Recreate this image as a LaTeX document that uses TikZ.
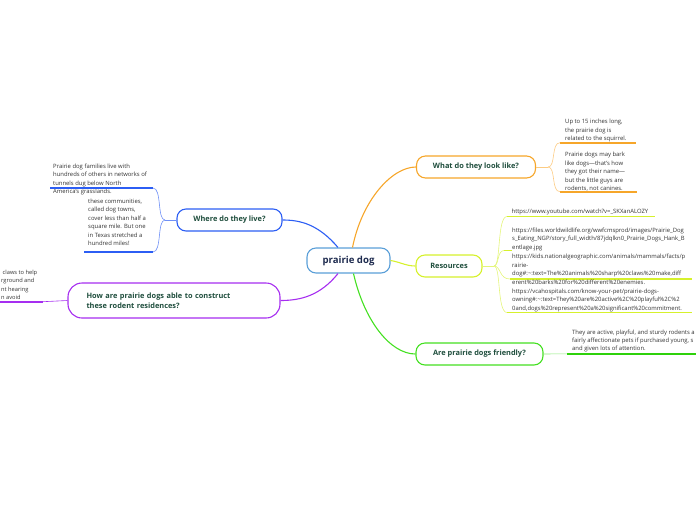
\documentclass[tikz,border=0pt]{standalone}
\usepackage{fontspec}
\setmainfont{Open Sans}
\definecolor{cblue}{HTML}{5A9FD8}
\definecolor{cnavy}{HTML}{1E2B4F}
\definecolor{tgreen}{HTML}{1F4E3D}
\definecolor{leafgray}{HTML}{333333}
\definecolor{orangeM}{HTML}{F6A62A}
\definecolor{orangeL}{HTML}{FCCB82}
\definecolor{blueM}{HTML}{2C5EF4}
\definecolor{blueL}{HTML}{6F90F6}
\definecolor{ygM}{HTML}{D6F12C}
\definecolor{ygL}{HTML}{E4F57A}
\definecolor{greenM}{HTML}{44E021}
\definecolor{greenU}{HTML}{2ED10B}
\definecolor{greenL}{HTML}{8BEB77}
\definecolor{purpM}{HTML}{A62EF0}
\begin{document}
\begin{tikzpicture}[x=1pt,y=-1pt,
  topic/.style={draw, rounded corners=9pt, line width=1.1pt, fill=white,
    font=\fontsize{7.4}{9.8}\selectfont\bfseries, text=tgreen, inner sep=0pt, align=center},
  leaf/.style={anchor=base west, inner sep=0pt, font=\fontsize{5.9}{8.5}\selectfont,
    text=leafgray, align=left},
  mainc/.style={line width=1.1pt},
  thinc/.style={line width=0.6pt},
  uline/.style={line width=1.7pt}]
\useasboundingbox (0,0) rectangle (696,520);
\clip (0,0) rectangle (696,520);

% central node
\node[draw=cblue, line width=1.1pt, rounded corners=9pt, fill=white, minimum width=83pt,
  minimum height=25pt, inner sep=0pt, text=cnavy, font=\fontsize{9.6}{11}\selectfont\bfseries]
  (c) at (348.5,260.5) {prairie dog};

% topics
\node[topic, draw=orangeM, minimum width=119pt, minimum height=22pt] (what) at (476,167) {What do they look like?};
\node[topic, draw=ygM, minimum width=66pt, minimum height=22pt] (res) at (449,266) {Resources};
\node[topic, draw=greenM, minimum width=127pt, minimum height=22pt] (fr) at (479.5,354) {Are prairie dogs friendly?};
\node[topic, draw=blueM, minimum width=105pt, minimum height=22pt] (where) at (229.5,220) {Where do they live?};
\node[topic, draw=purpM, rounded corners=14pt, text width=175pt, inner xsep=18.5pt, align=left,
  minimum height=35pt] (how) at (174,300.5) {How are prairie dogs able to construct\\these rodent residences?};

% main connectors
\draw[mainc, orangeM] ([xshift=4pt]c.north) .. controls (362,200) and (392,167) .. (what.west);
\draw[mainc, blueM] ([xshift=-10.5pt]c.north) .. controls (318,224) and (300,220) .. (where.east);
\draw[mainc, ygM] (c.east) .. controls (400,262) and (406,266) .. (res.west);
\draw[mainc, greenM] ([xshift=5pt]c.south) .. controls (364,320) and (390,354) .. (fr.west);
\draw[mainc, purpM] ([xshift=-10.5pt]c.south) .. controls (320,296) and (300,300.5) .. (how.east);

% ---- orange leaves (base = last line)
\node[leaf] (o1t) at (565,140.8) {Up to 15 inches long,\\the prairie dog is\\related to the squirrel.};
\node[leaf] (o2t) at (565,190.5) {Prairie dogs may bark\\like dogs—that's how\\they got their name—\\but the little guys are\\rodents, not canines.};
\coordinate (oj) at (548,167);
\coordinate (o1) at (560,142.7);
\coordinate (o1e) at (636,142.7);
\coordinate (o2) at (560,191.7);
\coordinate (o2e) at (637,191.7);
\draw[thinc, orangeL] (what.east) -- (oj);
\draw[thinc, orangeL] (oj) .. controls (556,167) and (551,142.7) .. (o1);
\draw[thinc, orangeL] (oj) .. controls (556,167) and (551,191.7) .. (o2);
\draw[uline, orangeM] (o1) -- (o1e);
\draw[uline, orangeM] (o2) -- (o2e);

% ---- blue leaves
\node[leaf] (b1t) at (53,193.7) {Prairie dog families live with\\hundreds of others in networks of\\tunnels dug below North\\America's grasslands.};
\node[leaf] (b2t) at (88,245.5) {these communities,\\called dog towns,\\cover less than half a\\square mile. But one\\in Texas stretched a\\hundred miles!};
\coordinate (bj) at (165,220);
\coordinate (b1) at (153,188);
\coordinate (b1e) at (50,188);
\coordinate (b2) at (153,252);
\coordinate (b2e) at (84,252);
\draw[thinc, blueL] (where.west) -- (bj);
\draw[thinc, blueL] (bj) .. controls (157,220) and (162,188) .. (b1);
\draw[thinc, blueL] (bj) .. controls (157,220) and (162,252) .. (b2);
\draw[uline, blueM] (b1) -- (b1e);
\draw[uline, blueM] (b2) -- (b2e);

% ---- resources leaves
\coordinate (rj) at (494,266);
\coordinate (r1) at (507,216.5);
\coordinate (r1e) at (655,216.5);
\coordinate (r2) at (504,250.5);
\coordinate (r2e) at (512,250.5);
\coordinate (r3) at (510,279);
\coordinate (r3e) at (692,279);
\coordinate (r4) at (507,312.5);
\coordinate (r4e) at (692,312.5);
\draw[thinc, ygL] (res.east) -- (rj);
\draw[thinc, ygL] (rj) .. controls (501,266) and (497,216.5) .. (r1);
\draw[thinc, ygL] (rj) .. controls (499,266) and (497,250.5) .. (r2);
\draw[thinc, ygL] (rj) .. controls (501,266) and (499,279) .. (r3);
\draw[thinc, ygL] (rj) .. controls (501,266) and (497,312.5) .. (r4);
\draw[uline, ygM] (r1) -- (r1e);
\draw[uline, ygM] (r2) -- (r2e);
\draw[uline, ygM] (r3) -- (r3e);
\draw[uline, ygM] (r4) -- (r4e);
\node[leaf] (r1t) at (511.5,213.8) {https://www.youtube.com/watch?v=\_SKXanALOZY};
\node[leaf] (r2t) at (512,249.2) {https://files.worldwildlife.org/wwfcmsprod/images/Prairie\_Dog\\s\_Eating\_NGP/story\_full\_width/87jdqlkn0\_Prairie\_Dogs\_Hank\_B\\entlage.jpg};
\node[leaf] (r3t) at (512,284) {https://kids.nationalgeographic.com/animals/mammals/facts/p\\rairie-\\dog\#:\textasciitilde:text=The\%20animals\%20sharp\%20claws\%20make,diff\\erent\%20barks\%20for\%20different\%20enemies.};
\node[leaf] (r4t) at (512,310) {https://vcahospitals.com/know-your-pet/prairie-dogs-\\owning\#:\textasciitilde:text=They\%20are\%20active\%2C\%20playful\%2C\%2\\0and,dogs\%20represent\%20a\%20significant\%20commitment.};

% ---- purple leaf
\coordinate (p1) at (43,301.7);
\coordinate (p1e) at (0,301.7);
\draw[thinc, purpM] (how.west) -- (p1);
\draw[uline, purpM] (p1) -- (p1e);
\node[leaf, font=\fontsize{5.7}{8.2}\selectfont] (pt) at (1,299.3) {\hspace*{1.5pt}claws to help\\rground and\\nt hearing\\n avoid};

% ---- green leaf
\coordinate (g1) at (567,353.8);
\coordinate (g1e) at (696,353.8);
\draw[thinc, greenL] (fr.east) -- (g1);
\draw[uline, greenU] (g1) -- (g1e);
\node[leaf, font=\fontsize{5.9}{8}\selectfont] (gt) at (572,350.8) {They are active, playful, and sturdy rodents a\\fairly affectionate pets if purchased young, s\\and given lots of attention.};
\end{tikzpicture}
\end{document}
